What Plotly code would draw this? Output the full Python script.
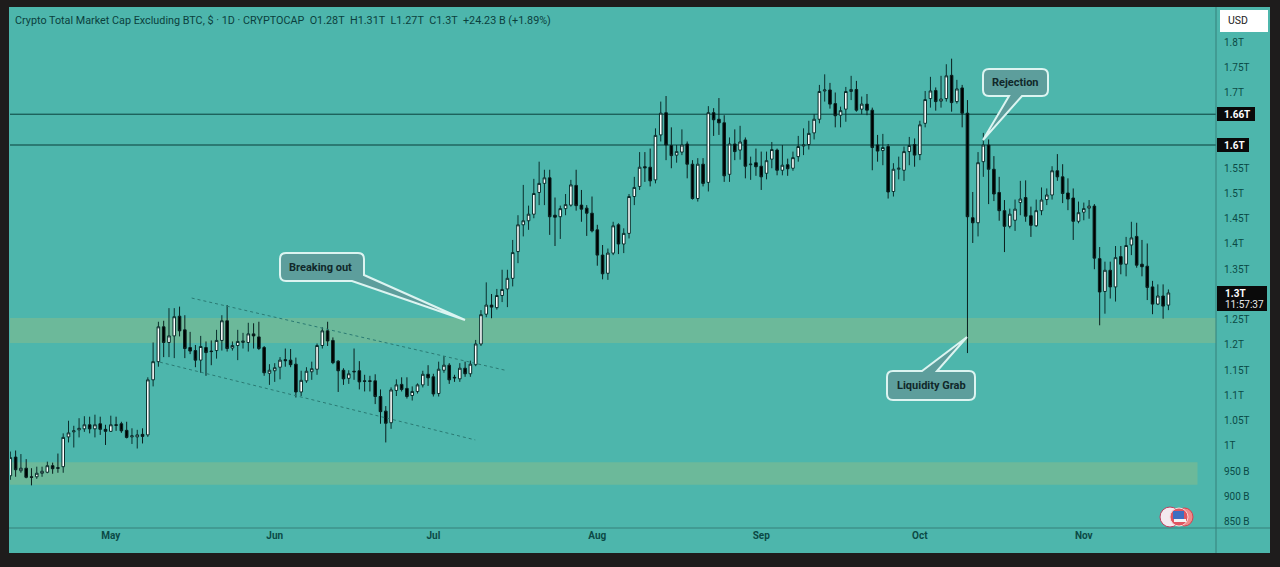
import pandas as pd
import plotly.graph_objects as go

# ========== Data (in trillions) ==========
open_ = [
    .941, .978, .951, .956, .939, .939, .946, .948, .961, .957,
    .959, 1.018, 1.028, 1.032, 1.034, 1.042, 1.034, 1.044, 1.033, 1.029,
    1.042, 1.044, 1.031, 1.018, 1.018, 1.023, 1.022, 1.131, 1.167, 1.236,
    1.205, 1.218, 1.257, 1.230, 1.195, 1.189, 1.170, 1.195, 1.188, 1.189,
    1.209, 1.248, 1.194, 1.199, 1.205, 1.205, 1.222, 1.216, 1.195, 1.144,
    1.149, 1.156, 1.171, 1.170, 1.162, 1.107, 1.129, 1.147, 1.152, 1.199,
    1.228, 1.209, 1.168, 1.150, 1.134, 1.148, 1.149, 1.129, 1.129, 1.129,
    1.098, 1.069, 1.046, 1.110, 1.122, 1.114, 1.100, 1.108, 1.121, 1.142,
    1.137, 1.104, 1.150, 1.160, 1.136, 1.133, 1.154, 1.143, 1.161, 1.202,
    1.261, 1.279, 1.274, 1.298, 1.311, 1.332, 1.385, 1.438, 1.446, 1.459,
    1.502, 1.520, 1.531, 1.457, 1.454, 1.470, 1.477, 1.516, 1.477, 1.471,
    1.461, 1.428, 1.378, 1.342, 1.382, 1.438, 1.400, 1.421, 1.494, 1.514,
    1.553, 1.552, 1.527, 1.616, 1.660, 1.595, 1.576, 1.582, 1.598, 1.558,
    1.490, 1.558, 1.522, 1.660, 1.647, 1.640, 1.538, 1.598, 1.586, 1.606,
    1.557, 1.561, 1.554, 1.540, 1.568, 1.586, 1.546, 1.557, 1.550, 1.573,
    1.594, 1.597, 1.620, 1.647, 1.703, 1.705, 1.678, 1.655, 1.667, 1.702,
    1.706, 1.667, 1.677, 1.665, 1.596, 1.585, 1.593, 1.504, 1.548, 1.546,
    1.583, 1.597, 1.577, 1.639, 1.688, 1.704, 1.683, 1.688, 1.734, 1.682,
    1.709, 1.659, 1.452, 1.442, 1.563, 1.596, 1.548, 1.502, 1.466, 1.435,
    1.447, 1.482, 1.492, 1.456, 1.436, 1.466, 1.488, 1.497, 1.545, 1.533,
    1.501, 1.491, 1.445, 1.463, 1.471, 1.475, 1.371, 1.306, 1.348, 1.315,
    1.375, 1.360, 1.398, 1.415, 1.360, 1.356, 1.315, 1.281, 1.297, 1.279,
]
close = [
    .977, .953, .956, .938, .938, .946, .950, .961, .955, .956,
    1.017, 1.026, 1.030, 1.035, 1.042, 1.034, 1.042, 1.033, 1.029, 1.042,
    1.041, 1.030, 1.017, 1.020, 1.022, 1.019, 1.131, 1.167, 1.236, 1.205,
    1.218, 1.256, 1.228, 1.193, 1.188, 1.170, 1.197, 1.185, 1.187, 1.209,
    1.248, 1.193, 1.199, 1.207, 1.208, 1.222, 1.218, 1.193, 1.145, 1.150,
    1.155, 1.170, 1.169, 1.161, 1.107, 1.130, 1.148, 1.153, 1.199, 1.228,
    1.208, 1.165, 1.149, 1.133, 1.143, 1.147, 1.127, 1.128, 1.128, 1.098,
    1.068, 1.045, 1.111, 1.121, 1.112, 1.098, 1.108, 1.121, 1.142, 1.135,
    1.103, 1.152, 1.160, 1.131, 1.135, 1.154, 1.143, 1.162, 1.202, 1.260,
    1.279, 1.275, 1.298, 1.310, 1.332, 1.383, 1.438, 1.446, 1.459, 1.500,
    1.520, 1.531, 1.454, 1.453, 1.470, 1.478, 1.517, 1.476, 1.469, 1.461,
    1.426, 1.378, 1.341, 1.382, 1.436, 1.400, 1.421, 1.494, 1.512, 1.552,
    1.551, 1.525, 1.615, 1.659, 1.596, 1.575, 1.583, 1.596, 1.558, 1.490,
    1.558, 1.520, 1.660, 1.646, 1.640, 1.535, 1.598, 1.583, 1.602, 1.554,
    1.558, 1.553, 1.533, 1.565, 1.587, 1.546, 1.556, 1.549, 1.571, 1.593,
    1.596, 1.619, 1.647, 1.702, 1.705, 1.677, 1.654, 1.664, 1.702, 1.706,
    1.665, 1.677, 1.665, 1.591, 1.584, 1.591, 1.503, 1.548, 1.550, 1.583,
    1.595, 1.576, 1.636, 1.686, 1.703, 1.682, 1.687, 1.733, 1.680, 1.707,
    1.659, 1.454, 1.442, 1.561, 1.596, 1.548, 1.499, 1.466, 1.435, 1.459,
    1.469, 1.489, 1.455, 1.437, 1.466, 1.487, 1.497, 1.545, 1.533, 1.500,
    1.489, 1.445, 1.462, 1.470, 1.475, 1.372, 1.305, 1.348, 1.315, 1.373,
    1.360, 1.397, 1.412, 1.358, 1.355, 1.314, 1.281, 1.297, 1.277, 1.303,
]
high = [
    .989, .991, .984, .974, .956, .959, .959, .969, .967, .985,
    1.025, 1.050, 1.040, 1.055, 1.059, 1.058, 1.062, 1.058, 1.042, 1.060,
    1.058, 1.048, 1.048, 1.035, 1.032, 1.035, 1.136, 1.205, 1.246, 1.248,
    1.273, 1.273, 1.276, 1.259, 1.226, 1.200, 1.218, 1.207, 1.209, 1.230,
    1.259, 1.279, 1.207, 1.230, 1.224, 1.244, 1.243, 1.246, 1.198, 1.162,
    1.164, 1.176, 1.193, 1.192, 1.175, 1.149, 1.156, 1.167, 1.203, 1.235,
    1.246, 1.215, 1.170, 1.154, 1.150, 1.193, 1.168, 1.141, 1.139, 1.142,
    1.112, 1.079, 1.116, 1.132, 1.136, 1.136, 1.118, 1.124, 1.149, 1.160,
    1.143, 1.167, 1.178, 1.164, 1.141, 1.164, 1.167, 1.169, 1.210, 1.269,
    1.324, 1.301, 1.311, 1.349, 1.349, 1.408, 1.457, 1.517, 1.476, 1.529,
    1.563, 1.547, 1.547, 1.492, 1.476, 1.499, 1.527, 1.547, 1.507, 1.477,
    1.494, 1.438, 1.398, 1.391, 1.444, 1.441, 1.431, 1.499, 1.533, 1.582,
    1.582, 1.589, 1.629, 1.682, 1.693, 1.631, 1.596, 1.627, 1.603, 1.566,
    1.570, 1.570, 1.673, 1.669, 1.689, 1.655, 1.611, 1.627, 1.634, 1.611,
    1.573, 1.589, 1.583, 1.583, 1.602, 1.589, 1.596, 1.569, 1.583, 1.614,
    1.629, 1.644, 1.657, 1.715, 1.736, 1.719, 1.700, 1.672, 1.711, 1.733,
    1.723, 1.692, 1.697, 1.670, 1.616, 1.618, 1.598, 1.560, 1.573, 1.593,
    1.612, 1.609, 1.644, 1.703, 1.731, 1.710, 1.733, 1.756, 1.767, 1.725,
    1.715, 1.685, 1.503, 1.582, 1.620, 1.607, 1.574, 1.533, 1.487, 1.470,
    1.488, 1.525, 1.526, 1.474, 1.488, 1.512, 1.510, 1.554, 1.578, 1.558,
    1.530, 1.510, 1.484, 1.482, 1.487, 1.479, 1.394, 1.365, 1.365, 1.396,
    1.396, 1.414, 1.444, 1.442, 1.408, 1.401, 1.327, 1.320, 1.320, 1.310,
]
low = [
    .933, .939, .947, .936, .922, .935, .939, .946, .945, .947,
    .947, 1.007, .997, 1.017, 1.028, 1.025, 1.017, 1.022, 1.002, 1.028,
    1.030, 1.026, 1.015, 1.004, .995, 1.005, 1.018, 1.118, 1.157, 1.176,
    1.176, 1.174, 1.217, 1.174, 1.182, 1.156, 1.145, 1.139, 1.160, 1.173,
    1.189, 1.187, 1.189, 1.170, 1.193, 1.187, 1.193, 1.190, 1.139, 1.121,
    1.127, 1.132, 1.157, 1.156, 1.096, 1.099, 1.125, 1.131, 1.141, 1.193,
    1.198, 1.162, 1.107, 1.121, 1.123, 1.131, 1.112, 1.108, 1.108, 1.083,
    1.044, 1.007, 1.034, 1.099, 1.108, 1.094, 1.090, 1.104, 1.116, 1.119,
    1.098, 1.098, 1.145, 1.123, 1.127, 1.127, 1.137, 1.137, 1.158, 1.198,
    1.255, 1.253, 1.270, 1.285, 1.275, 1.316, 1.362, 1.415, 1.428, 1.451,
    1.477, 1.477, 1.418, 1.396, 1.410, 1.457, 1.474, 1.466, 1.444, 1.416,
    1.423, 1.357, 1.330, 1.329, 1.378, 1.380, 1.382, 1.411, 1.477, 1.507,
    1.523, 1.514, 1.520, 1.603, 1.566, 1.550, 1.561, 1.576, 1.530, 1.488,
    1.484, 1.514, 1.504, 1.614, 1.616, 1.523, 1.523, 1.566, 1.567, 1.530,
    1.527, 1.535, 1.507, 1.528, 1.550, 1.536, 1.536, 1.535, 1.545, 1.563,
    1.576, 1.587, 1.607, 1.639, 1.682, 1.668, 1.631, 1.631, 1.642, 1.685,
    1.662, 1.657, 1.655, 1.546, 1.563, 1.556, 1.490, 1.494, 1.528, 1.525,
    1.556, 1.553, 1.566, 1.631, 1.670, 1.664, 1.670, 1.682, 1.662, 1.678,
    1.631, 1.184, 1.402, 1.415, 1.533, 1.479, 1.485, 1.446, 1.384, 1.431,
    1.426, 1.457, 1.444, 1.414, 1.434, 1.457, 1.477, 1.488, 1.525, 1.481,
    1.467, 1.408, 1.441, 1.447, 1.450, 1.350, 1.239, 1.262, 1.292, 1.286,
    1.340, 1.336, 1.378, 1.353, 1.336, 1.289, 1.261, 1.279, 1.252, 1.269,
]
dates = pd.date_range("2025-04-12", periods=len(close), freq="D")

price_ticks = [.85, .9, .95, 1.0, 1.05, 1.1, 1.15, 1.2, 1.25, 1.35, 1.4, 1.45, 1.5, 1.55, 1.7, 1.75, 1.8]
price_labels = ["850 B", "900 B", "950 B", "1T", "1.05T", "1.1T", "1.15T", "1.2T", "1.25T",
                "1.35T", "1.4T", "1.45T", "1.5T", "1.55T", "1.7T", "1.75T", "1.8T"]
month_ticks = ["2025-05-01", "2025-06-01", "2025-07-01", "2025-08-01", "2025-09-01", "2025-10-01", "2025-11-01"]
month_labels = ["May", "Jun", "Jul", "Aug", "Sep", "Oct", "Nov"]

levels = [1.657, 1.596]
level_labels = ["1.66T", "1.6T"]
zones = [(1.2535, 1.204, "2025-11-26 00:00"), (.968, .923, "2025-11-22 12:00")]
channel = [
    ("2025-05-16 07:00", 1.293, "2025-07-14 14:00", 1.150),
    ("2025-05-10 07:00", 1.166, "2025-07-08 22:00", 1.012),
]
title = ("Crypto Total Market Cap Excluding BTC, $ · 1D · CRYPTOCAP\u00a0\u00a0O1.28T\u00a0\u00a0H1.31T"
         "\u00a0\u00a0L1.27T\u00a0\u00a0C1.3T\u00a0\u00a0+24.23 B (+1.89%)")

# ========== Colours ==========
FRAME = "#1e1c1c"
PANEL = "#4db6ac"
ZONE = "#6cb99a"
INK = "#0b4a46"
CALLOUT = "#5d9e9c"

# plot area in page pixels
L, R, T, B = 10, 1216, 7, 528


def px(x):
    return (x - L) / (R - L)


def py(y):
    return (B - y) / (B - T)


def rect(x0, y0, x1, y1, **kw):
    return dict(type="rect", xref="paper", yref="paper",
                x0=px(x0), x1=px(x1), y0=py(y0), y1=py(y1), **kw)


def circle(x0, y0, x1, y1, fill, edge):
    return dict(type="circle", xref="paper", yref="paper", x0=px(x0), x1=px(x1), y0=py(y1), y1=py(y0),
                fillcolor=fill, line=dict(color=edge, width=1))


def label(x, y, text, color=INK, size=10, anchor="left"):
    return dict(xref="paper", yref="paper", x=px(x), y=py(y), text=text, showarrow=False,
                xanchor=anchor, yanchor="middle", font=dict(color=color, size=size))


def callout(x0, y0, x1, y1, top=(), bottom=(), round_corner=True):
    # rounded box with the pointer points spliced into its top or bottom edge
    r = 6
    d = f"M{px(x0 + r)},{py(y0)} "
    for p in top:
        d += f"L{px(p[0])},{py(p[1])} "
    d += f"L{px(x1 - r)},{py(y0)} Q{px(x1)},{py(y0)} {px(x1)},{py(y0 + r)} "
    d += f"L{px(x1)},{py(y1 - r)} "
    if round_corner:
        d += f"Q{px(x1)},{py(y1)} {px(x1 - r)},{py(y1)} "
    for p in bottom:
        d += f"L{px(p[0])},{py(p[1])} "
    d += f"L{px(x0 + r)},{py(y1)} Q{px(x0)},{py(y1)} {px(x0)},{py(y1 - r)} "
    d += f"L{px(x0)},{py(y0 + r)} Q{px(x0)},{py(y0)} {px(x0 + r)},{py(y0)} Z"
    return dict(type="path", xref="paper", yref="paper", path=d, fillcolor=CALLOUT,
                line=dict(color="#dcf4f1", width=2))


# ========== Shapes ==========
shapes = [rect(9, 7, 1270, 553, layer="below", fillcolor=PANEL, line_width=0)]
for top_, bottom_, end in zones:
    shapes.append(dict(type="rect", xref="x", yref="y", x0="2025-04-11 22:00", x1=end,
                       y0=bottom_, y1=top_, layer="below", fillcolor=ZONE, line_width=0))
for lvl in levels:
    shapes.append(dict(type="line", xref="paper", yref="y", x0=0, x1=1, y0=lvl, y1=lvl,
                       layer="below", line=dict(color="#0a3f3b", width=1)))
for x0, y0, x1, y1 in channel:
    shapes.append(dict(type="line", xref="x", yref="y", x0=x0, x1=x1, y0=y0, y1=y1,
                       line=dict(color="#2a7a73", width=1, dash="dot")))

# axis rules
shapes.append(dict(type="line", xref="paper", yref="paper", x0=1, x1=1, y0=py(7), y1=py(553),
                   line=dict(color="#36807a", width=1)))
shapes.append(dict(type="line", xref="paper", yref="paper", x0=px(9), x1=px(1270), y0=0, y1=0,
                   line=dict(color="#36807a", width=1)))

# callouts
shapes.append(callout(280, 253, 364, 281, bottom=[(465, 320), (352, 281)], round_corner=False))
shapes.append(callout(983, 69, 1048, 96, bottom=[(1022, 96), (983, 140), (1009, 96)]))
shapes.append(callout(887, 371, 975, 400, top=[(922, 371), (967, 337), (937, 371)]))

# price tags
shapes.append(rect(1217, 107, 1255, 121, fillcolor="#0a0a0a", line_width=0))
shapes.append(rect(1217, 138, 1249, 152, fillcolor="#0a0a0a", line_width=0))
shapes.append(rect(1217, 286, 1267, 311, fillcolor="#0a0a0a", line_width=0))
shapes.append(rect(1220, 10, 1268, 32, fillcolor="#ffffff", line_width=0))

# little flag badge bottom right
shapes.append(circle(1160, 507, 1180, 527, "#f4e9ef", "#c04060"))
shapes.append(circle(1176, 508, 1193, 526, "#f08a8a", "#d84050"))
shapes.append(circle(1170, 508, 1188, 526, "#e05560", "#f6d8d8"))
shapes.append(rect(1173, 511, 1184, 519, fillcolor="#3f6fc0", line_width=0))
shapes.append(rect(1174, 519, 1186, 522, fillcolor="#f4f4f4", line_width=0))

# ========== Text ==========
annotations = [
    label(13, 20, title, color="#0b3f3d", size=10.8),
    label(320.5, 267, "<b>Breaking out</b>", color="#10282a", size=11, anchor="center"),
    label(1015.5, 82, "<b>Rejection</b>", color="#10282a", size=11, anchor="center"),
    label(931, 385.5, "<b>Liquidity Grab</b>", color="#10282a", size=11, anchor="center"),
    label(1238, 21, "USD", color="#222222", size=10.5, anchor="center"),
    label(1222, 114, "<b>" + level_labels[0] + "</b>", color="#ffffff"),
    label(1222, 145, "<b>" + level_labels[1] + "</b>", color="#ffffff"),
    label(1223, 293, "<b>1.3T</b>", color="#ffffff"),
    label(1223, 304.5, "11:57:37", color="#e8e8e8"),
]

# ========== Plot ==========
fig = go.Figure(go.Candlestick(
    x=dates, open=open_, high=high, low=low, close=close,
    increasing=dict(line=dict(color="#0a2e2c", width=1), fillcolor="#ffffff"),
    decreasing=dict(line=dict(color="#0a1f1e", width=1), fillcolor="#000000"),
    whiskerwidth=0,
    showlegend=False,
))
fig.update_layout(
    width=1280, height=567,
    margin=dict(l=L, r=1280 - R, t=T, b=567 - B, autoexpand=False),
    paper_bgcolor=FRAME,
    plot_bgcolor="rgba(0,0,0,0)",
    font=dict(family="Roboto, 'Noto Sans', sans-serif", color=INK, size=10),
    shapes=shapes,
    annotations=annotations,
    showlegend=False,
    xaxis=dict(
        type="date",
        range=["2025-04-11 22:30", "2025-11-26 00:00"],
        rangeslider=dict(visible=False),
        tickmode="array", tickvals=month_ticks,
        ticktext=["<b>" + m + "</b>" for m in month_labels],
        showgrid=False, zeroline=False, ticks="", showline=False,
        tickfont=dict(size=10, color=INK),
    ),
    yaxis=dict(
        side="right",
        range=[.8376, 1.8693],
        tickmode="array", tickvals=price_ticks, ticktext=price_labels,
        showgrid=False, zeroline=False, ticks="outside", ticklen=5, tickcolor="rgba(0,0,0,0)",
        showline=False,
        tickfont=dict(size=10, color=INK),
    ),
)

fig.write_html("out.html", config=dict(displayModeBar=False),
               post_script="document.body.style.margin='0';document.body.style.overflow='hidden';")
